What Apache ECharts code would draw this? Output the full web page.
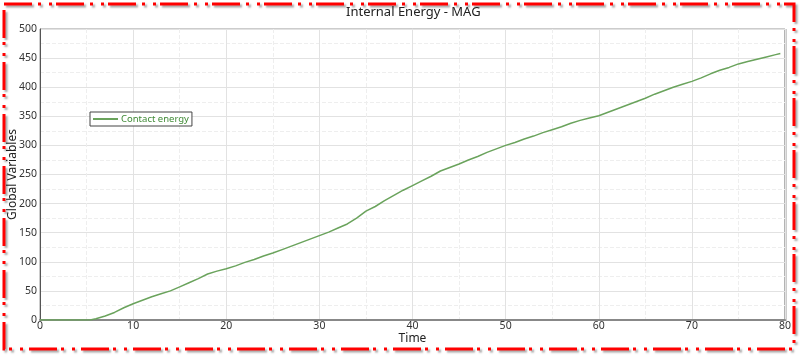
<!DOCTYPE html>
<html>
<head>
<meta charset="utf-8">
<script src="https://cdn.jsdelivr.net/npm/echarts@6/dist/echarts.min.js"></script>
<style>
  html, body { margin: 0; padding: 0; background: #fff; }
  #chart { width: 800px; height: 357px; }
</style>
</head>
<body>
<div id="chart"></div>
<script>
const times = [0, 1, 2, 3, 4, 5, 5.5, 6, 7, 8, 9, 10, 11, 12, 13, 14, 15, 16, 17, 18, 19,
  20, 21, 22, 23, 24, 25, 26, 27, 28, 29, 30, 31, 32, 33, 34, 35, 36, 37, 38, 39,
  40, 41, 42, 43, 44, 45, 46, 47, 48, 49, 50, 51, 52, 53, 54, 55, 56, 57, 58, 59,
  60, 61, 62, 63, 64, 65, 66, 67, 68, 69, 70, 71, 72, 73, 74, 75, 76, 77, 78, 79, 79.5];
const contactEnergy = [0, 0, 0, 0, 0, 0, 0.5, 2, 7, 13, 21, 28, 34, 40, 45, 50, 57, 64, 71, 79, 84,
  88, 93, 99, 104, 110, 115, 121, 127, 133, 139, 145, 151, 158, 165, 175, 187, 195, 205, 214, 223,
  231, 239, 247, 256, 262, 268, 275, 281, 288, 294, 300, 305, 311, 316, 322, 327, 332, 338, 343, 347,
  351, 357, 363, 369, 375, 381, 388, 394, 400, 405, 410, 416, 423, 429, 434, 440, 444, 448, 452, 456, 458];
const seriesName = "Contact energy";

const chart = echarts.init(document.getElementById("chart"));
const font = "'Noto Sans', sans-serif";

chart.setOption({
  animation: false,
  title: {
    text: "Internal Energy - MAG",
    left: 341,
    top: 1,
    textStyle: { fontFamily: font, fontSize: 13, fontWeight: "normal", color: "#222" },
  },
  legend: {
    left: 90,
    top: 112,
    orient: "vertical",
    itemWidth: 25,
    itemHeight: 2,
    itemGap: 4,
    padding: [2, 3, 2, 3],
    borderColor: "#444",
    borderWidth: 1,
    borderRadius: 0,
    backgroundColor: "#fff",
    icon: "rect",
    textStyle: { fontFamily: font, fontSize: 9.5, color: "#3f8a35", padding: [0, 0, 0, -2] },
    data: [seriesName],
  },
  grid: {
    left: 40, right: 15, top: 29, bottom: 37,
    containLabel: false,
    outerBoundsMode: "none",
    show: true, borderColor: "#999", borderWidth: 1,
  },
  xAxis: {
    type: "value",
    min: 0,
    max: 80,
    interval: 10,
    name: "Time",
    nameLocation: "middle",
    nameGap: 13,
    nameMoveOverlap: false,
    nameTextStyle: { fontFamily: font, fontSize: 12, color: "#222" },
    axisLine: { lineStyle: { color: "#888", width: 2 } },
    axisTick: { show: false },
    axisLabel: { fontFamily: font, fontSize: 10.5, color: "#333", margin: 1 },
    splitLine: { lineStyle: { color: "#e2e2e2" } },
    minorTick: { show: false, splitNumber: 2 },
    minorSplitLine: { show: true, lineStyle: { color: "#eee", type: "dashed" } },
  },
  yAxis: {
    type: "value",
    min: 0,
    max: 500,
    interval: 50,
    name: "Global Variables",
    nameLocation: "middle",
    nameGap: 21,
    nameMoveOverlap: false,
    nameTextStyle: { fontFamily: font, fontSize: 12, color: "#222" },
    axisLine: { show: true, lineStyle: { color: "#555", width: 1 } },
    axisTick: { show: false },
    axisLabel: { fontFamily: font, fontSize: 10.5, color: "#333", margin: 3 },
    splitLine: { lineStyle: { color: "#e2e2e2" } },
    minorTick: { show: false, splitNumber: 2 },
    minorSplitLine: { show: true, lineStyle: { color: "#eee", type: "dashed" } },
  },
  series: [
    {
      name: seriesName,
      type: "line",
      showSymbol: false,
      smooth: false,
      lineStyle: { color: "#6aa35c", width: 1.5 },
      itemStyle: { color: "#6aa35c" },
      data: times.map((t, i) => [t, contactEnergy[i]]),
    },
  ],
  graphic: [
    {
      type: "line",
      shape: { x1: 785.5, y1: 29, x2: 785.5, y2: 321 },
      style: { stroke: "#999", lineWidth: 2 },
      silent: true,
    },
    {
      type: "rect",
      shape: { x: 4, y: 4, width: 790, height: 345 },
      style: {
        fill: null,
        stroke: "#ff0000",
        lineWidth: 3,
        lineDash: [28, 6, 3, 8, 3, 4],
        shadowColor: "rgba(0,0,0,0.35)",
        shadowBlur: 2,
        shadowOffsetX: 2,
        shadowOffsetY: 2,
      },
      silent: true,
      z: 100,
    },
  ],
});
</script>
</body>
</html>
